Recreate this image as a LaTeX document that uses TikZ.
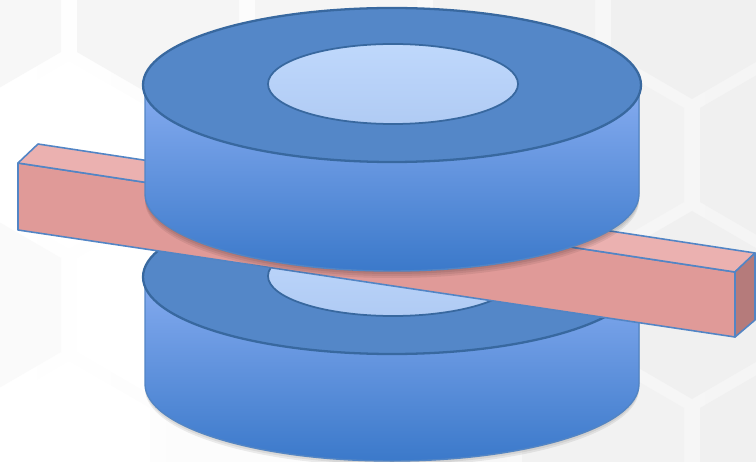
\documentclass[tikz,border=0pt]{standalone}
\usepackage{amsmath}
\usepackage{tikz}

\definecolor{ringtop}{HTML}{5487C8}
\definecolor{ringline}{HTML}{38689F}
\definecolor{bodyhi}{HTML}{86ACF0}
\definecolor{bodylo}{HTML}{3B79CA}
\definecolor{holehi}{HTML}{BFD8FC}
\definecolor{holelo}{HTML}{B0CBF4}
\definecolor{barfront}{HTML}{E09A98}
\definecolor{bartop}{HTML}{EBB1B0}
\definecolor{barend}{HTML}{B57B7B}
\definecolor{barline}{HTML}{5285C5}

\tikzset{
  ringface/.style={fill=ringtop, draw=ringline, line width=1.3pt},
  holeface/.style={top color=holehi, bottom color=holelo, draw=ringline, line width=1pt},
  ringbody/.style={top color=bodyhi, bottom color=bodylo, draw=barline, line width=.8pt},
  barface/.style={draw=barline, line width=.9pt, line join=round},
  softshadow/.style={fill=black, fill opacity=.07, draw=none}
}

% one grey hexagon of the backdrop
\newcommand{\hexcell}[3]{
  \fill[black!#3!white] (#1,#2-94) -- (#1+81,#2-47) -- (#1+81,#2+47) -- (#1,#2+94)
    -- (#1-81,#2+47) -- (#1-81,#2-47) -- cycle;
}

% side wall of a ring, top ellipse centre at y=#1, bottom ellipse centre at y=#2
\newcommand{\ringwall}[2]{(145,#1) -- (145,#2) arc[start angle=180, end angle=0, x radius=247, y radius=77] -- (639,#1)}

\begin{document}
\begin{tikzpicture}[x=0.02cm, y=-0.02cm]
\path[use as bounding box, clip] (0,0) rectangle (756,462);

% backdrop
\fill[left color=white, right color=black!4] (0,0) rectangle (756,462);
\foreach \cx/\cy/\gr in {-20/5/3, 158/5/4, 336/5/4, 514/5/5, 692/5/6,
                            69/155/0, 247/155/1, 425/155/3, 603/155/5, 781/155/6,
                            -20/305/2, 158/305/0, 336/305/2, 514/305/4, 692/305/6,
                            69/455/0, 247/455/1, 425/455/3, 603/455/5, 781/455/6}{
  \hexcell{\cx}{\cy}{\gr}
}

% lower ring
\foreach \d in {1,3,5}{
  \fill[softshadow] \ringwall{277}{384+\d} -- cycle;
}
\fill[ringbody] \ringwall{277}{384} -- cycle;
\draw[ringface] (392,277) ellipse [x radius=249, y radius=77];
\draw[holeface] (393,276) ellipse [x radius=125, y radius=40];

% bar corners
\coordinate (frontTL) at (18,163);
\coordinate (frontBL) at (18,230);
\coordinate (frontTR) at (735,272);
\coordinate (frontBR) at (735,337);
\coordinate (backTL) at (38,144);
\coordinate (backTR) at (755,253);
\coordinate (backBR) at (755,320);

% bar, soft shadow first
\foreach \d in {1,3,5,7}{
  \fill[softshadow, yshift=-\d*0.02cm] (frontTL) -- (backTL) -- (backTR) -- (backBR) -- (frontBR) -- (frontBL) -- cycle;
}
\draw[barface, fill=barfront] (frontTL) -- (frontTR) -- (frontBR) -- (frontBL) -- cycle;
\draw[barface, fill=bartop] (frontTL) -- (backTL) -- (backTR) -- (frontTR) -- cycle;
\draw[barface, fill=barend] (frontTR) -- (backTR) -- (backBR) -- (frontBR) -- cycle;

% upper ring
\foreach \d in {1,3,5,7}{
  \fill[softshadow] \ringwall{85}{194+\d} -- cycle;
}
\fill[ringbody] \ringwall{85}{194} -- cycle;
\draw[ringface] (392,85) ellipse [x radius=249, y radius=77];
\draw[holeface] (393,84) ellipse [x radius=125, y radius=40];
\end{tikzpicture}
\end{document}
